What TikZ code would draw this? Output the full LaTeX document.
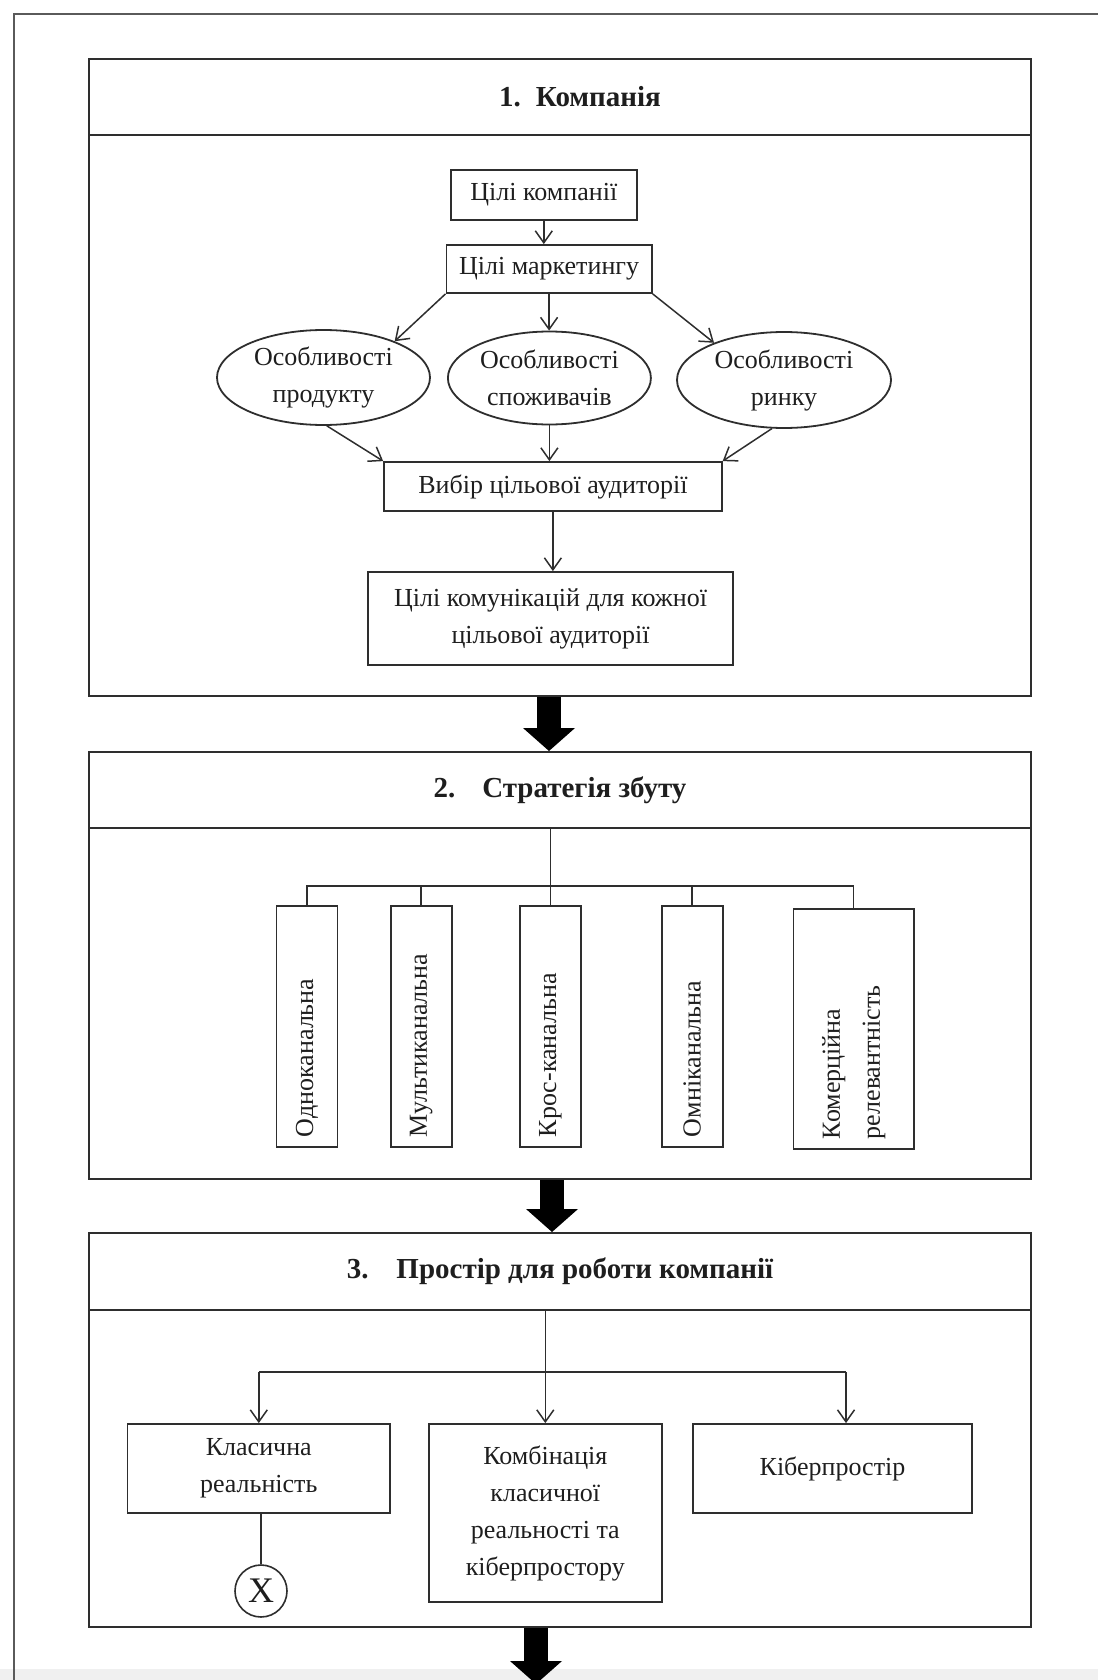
\documentclass[tikz,border=0pt]{standalone}
\usepackage{fontspec}
\setmainfont{Liberation Serif}
\usetikzlibrary{shapes.geometric,arrows.meta,calc}
\definecolor{lnc}{HTML}{2E2E2E}
\definecolor{txc}{HTML}{1E1E1E}
\definecolor{frc}{HTML}{5A5A5A}
\definecolor{stripc}{HTML}{F0F0F0}
\begin{document}
\begin{tikzpicture}[x=1pt,y=-1pt,
  every node/.style={text=txc, font=\fontsize{26}{37}\selectfont},
  box/.style={draw=lnc, line width=1.8pt, rectangle, inner sep=0pt, align=center},
  sect/.style={draw=lnc, line width=2pt, rectangle, inner sep=0pt, minimum width=942pt},
  oval/.style={draw=lnc, line width=1.8pt, ellipse, inner sep=0pt, align=center},
  vbox/.style={box, rotate=90, align=left},
  conn/.style={draw=lnc, line width=1.5pt},
  arr/.style={conn, -{Straight Barb[length=12pt,width=17pt]}},
  big/.style={line width=24pt, black, -{Triangle[width=52pt,length=23pt,line width=0pt]}},
  titlefont/.style={font=\bfseries\fontsize{29}{35}\selectfont}
]
\useasboundingbox (0,0) rectangle (1098,1680);
\fill[stripc] (0,1669) rectangle (1098,1680);
\draw[frc, line width=2pt] (14,1680) -- (14,14) -- (1098,14);

% ---------- Section 1 ----------
\node[sect, titlefont, minimum height=76pt] (h1) at (560,97) {\hspace*{40pt}1.\hspace{15pt}Компанія};
\node[sect, minimum height=561pt] (b1) at (560,415.5) {};

\node[box, minimum width=185.6pt, minimum height=50pt] (c) at (543.8,195) {Цілі компанії};
\node[box, minimum width=205.4pt, minimum height=48pt] (m) at (549.1,269) {Цілі маркетингу};
\node[oval, minimum width=213pt, minimum height=95pt] (e1) at (323.5,377.5) {Особливості\\продукту};
\node[oval, minimum width=203pt, minimum height=93pt] (e2) at (549.4,378) {Особливості\\споживачів};
\node[oval, minimum width=214pt, minimum height=96pt] (e3) at (784,380) {Особливості\\ринку};
\node[box, minimum width=337.7pt, minimum height=49pt] (v) at (552.9,486.5) {Вибір цільової аудиторії};
\node[box, minimum width=365pt, minimum height=93pt] (k) at (550.5,618.5) {Цілі комунікацій для кожної\\цільової аудиторії};

\draw[arr] (c.south) -- (c.south |- m.north);
\draw[arr] (m.south west) -- (e1.27);
\draw[arr] (m.south) -- (m.south |- e2.north);
\draw[arr] (m.south east) -- (e3.152);
\draw[arr] (e1.274) -- (v.north west);
\draw[arr] (e2.south) -- (e2.south |- v.north);
\draw[arr] (e3.256) -- (v.north east);
\draw[arr] (v.south) -- (v.south |- k.north);

% ---------- Section 2 ----------
\node[sect, titlefont, minimum height=76pt] (h2) at (560,790) {2.\hspace{27pt}Стратегія збуту};
\node[sect, minimum height=351pt] (b2) at (560,1003.5) {};

\node[vbox, minimum width=241pt, minimum height=61pt, text width=221pt] (s1) at (307,1026.5) {Одноканальна};
\node[vbox, minimum width=241pt, minimum height=61pt, text width=221pt] (s2) at (421.2,1026.5) {Мультиканальна};
\node[vbox, minimum width=241pt, minimum height=61.4pt, text width=221pt] (s3) at (550.3,1026.5) {Крос-канальна};
\node[vbox, minimum width=241pt, minimum height=61pt, text width=221pt] (s4) at (692.2,1026.5) {Омніканальна};
\node[vbox, minimum width=240pt, minimum height=120.6pt, text width=220pt, font=\fontsize{26}{40}\selectfont] (s5) at (853.7,1029) {Комерційна\\релевантність};

\coordinate (bar2) at (0,886);
\draw[conn] (s3.east |- h2.south) -- (s3.east);
\draw[conn] (s1.east) -- (s1.east |- bar2) -- (s5.east |- bar2) -- (s5.east);
\draw[conn] (s2.east) -- (s2.east |- bar2);
\draw[conn] (s4.east) -- (s4.east |- bar2);

% ---------- Section 3 ----------
\node[sect, titlefont, minimum height=77pt] (h3) at (560,1271.5) {3.\hspace{28pt}Простір для роботи компанії};
\node[sect, minimum height=317pt] (b3) at (560,1468.5) {};

\node[box, minimum width=262.5pt, minimum height=89pt] (r1) at (258.8,1468.5) {Класична\\реальність};
\node[box, minimum width=233.4pt, minimum height=178pt] (r2) at (545.3,1513) {Комбінація\\класичної\\реальності та\\кіберпростору};
\node[box, minimum width=279pt, minimum height=89pt] (r3) at (832.5,1468.5) {Кіберпростір};
\node[draw=lnc, line width=1.6pt, circle, minimum size=52pt, inner sep=0pt, font=\fontsize{36}{36}\selectfont] (xc) at (261,1591) {X};

\coordinate (bar3) at (0,1372);
\coordinate (r3t) at ([xshift=13.5pt]r3.north);
\draw[conn] (r1.north |- bar3) -- (r3t |- bar3);
\draw[arr] (r2.north |- h3.south) -- (r2.north);
\draw[arr] (r1.north |- bar3) -- (r1.north);
\draw[arr] (r3t |- bar3) -- (r3t);
\draw[conn] (xc.north |- r1.south) -- (xc.north);

% ---------- Big arrows ----------
\coordinate (out) at (536,1684);
\draw[big] ([xshift=-11pt]b1.south) -- ([xshift=-11pt]h2.north);
\draw[big] ([xshift=-8pt]b2.south) -- ([xshift=-8pt]h3.north);
\draw[big] ([xshift=-24pt]b3.south) -- (out);
\end{tikzpicture}
\end{document}
